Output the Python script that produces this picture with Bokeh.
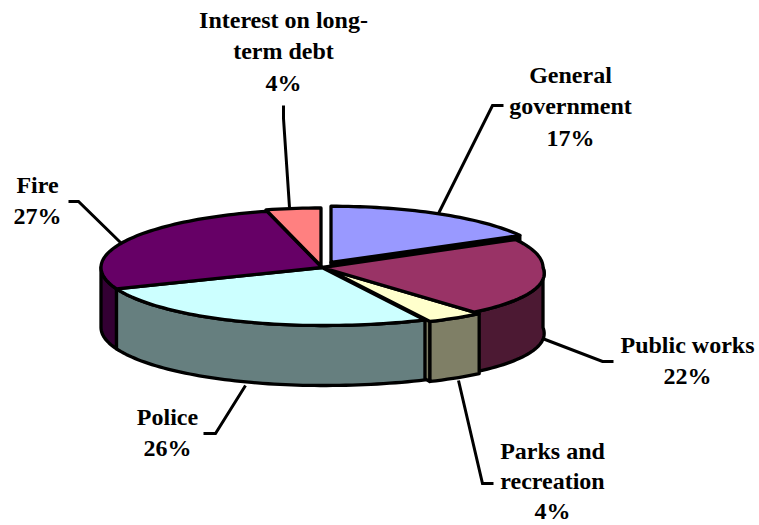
import math

from bokeh.core.properties import value
from bokeh.embed import file_html
from bokeh.models import Range1d
from bokeh.plotting import figure
from bokeh.resources import INLINE

# Expenditure shares, clockwise from twelve o'clock
categories = ["General government", "Public works", "Parks and recreation",
              "Police", "Fire", "Interest on long-term debt"]
shares = [17, 22, 4, 26, 27, 4]
top_colors = ["#9999FF", "#993366", "#FFFFCC", "#CCFFFF", "#660066", "#FF8080"]

# Wrapped category names for the labels
label_lines = [["General", "government"], ["Public works"], ["Parks and", "recreation"],
               ["Police"], ["Fire"], ["Interest on long-", "term debt"]]

# Label anchors: centre x, first line position, line spacing
label_anchor = [(570, 74, 31.5), (687, 344, 31.5), (552, 450, 30),
                (167, 416, 31.5), (37, 184, 31.5), (283, 19, 31.5)]
# Leader polylines from pie edge to label
leader_x = [[438, 492, 503], [542, 602, 613], [458, 482, 493],
            [245, 215, 203], [120, 78, 68], [289, 283, 283]]
leader_y = [[213, 105, 105], [338, 361, 361], [380, 483, 483],
            [385, 433, 433], [242, 201, 201], [207, 118, 105]]

# Pie projection
CX, CY, RX, RY, DEPTH = 321.5, 267, 221, 58, 60
BULGE = 11.5          # perspective stretch of the front-right quadrant
EDGE = 3.3
# Per-slice displacement of the apex and scale of the two radii
offsets = [(9, -5, 0.975, 0.97), (0, 0, 1, 1), (5, 1.5, 1, 1),
           (0, 0, 1, 1), (0, 0, 1, 1), (-1, -1.5, 1, 1)]

p = figure(width=759, height=525, x_range=Range1d(0, 759), y_range=Range1d(525, 0),
           output_backend="svg", toolbar_location=None, min_border=0,
           outline_line_color=None, background_fill_color="white",
           border_fill_color="white")
p.axis.visible = False
p.grid.visible = False


def rim(theta_deg, slice_index):
    dx, dy, sx, sy = offsets[slice_index]
    t = math.radians(theta_deg)
    s, c = math.sin(t), math.cos(t)
    x = CX + dx + RX * sx * s + BULGE * 2 * max(0, s) * max(0, -c)
    y = CY + dy - RY * sy * c
    return x, y


def arc(a, b, i):
    n = max(3, int(abs(b - a) / 1.5))
    return [rim(a + (b - a) * k / n, i) for k in range(n + 1)]


def darker(color):
    r, g, b = (int(color[j:j + 2], 16) // 2 for j in (1, 3, 5))
    return f"#{r:02X}{g:02X}{b:02X}"


def poly(points, fill):
    p.patch([q[0] for q in points], [q[1] for q in points], fill_color=fill,
            line_color="black", line_width=EDGE, line_join="round")


# Cumulative angles of each slice
spans = []
running = 0
total = sum(shares)
for share in shares:
    spans.append((running * 360 / total, (running + share) * 360 / total))
    running += share


def apex(i):
    return CX + offsets[i][0], CY + offsets[i][1]


def top(i):
    a, b = spans[i]
    poly([apex(i)] + arc(a, b, i), top_colors[i])


def wall(i):
    a, b = spans[i]
    a, b = max(a, 90), min(b, 270)
    if b <= a:
        return
    pts = arc(a, b, i)
    poly(pts + [(x, y + DEPTH) for x, y in reversed(pts)], darker(top_colors[i]))


# Painted back to front
BLUE, WORKS, PARKS, POLICE, FIRE, INTEREST = range(6)

wall(FIRE)
wall(WORKS)

# General government floats above the rim, its cut face appears as a heavy band
tip = rim(spans[BLUE][1], BLUE)
a0 = apex(BLUE)
poly([a0, tip, (tip[0], tip[1] + 8), (a0[0], a0[1] + 8)], "black")
top(BLUE)

# Parks wedge sits slightly out, showing a sliver of its cut face
pk_apex = apex(PARKS)
pk_corner = rim(spans[PARKS][1], PARKS)
poly([pk_apex, pk_corner, (pk_corner[0], pk_corner[1] + DEPTH),
      (pk_apex[0], pk_apex[1] + DEPTH)], darker(top_colors[PARKS]))
wall(PARKS)
top(PARKS)
top(WORKS)

wall(POLICE)
top(POLICE)
top(FIRE)
top(INTEREST)

# Leaders
for xs, ys in zip(leader_x, leader_y):
    p.line(xs, ys, line_color="black", line_width=3, line_join="miter")

# Labels: name lines followed by the percentage
for lines, share, (lx, ly, lh) in zip(label_lines, shares, label_anchor):
    for k, txt in enumerate(lines + [f"{share}%"]):
        p.text([lx], [ly + k * lh], text=[txt], text_align="center",
               text_baseline="alphabetic", text_color="black",
               text_font=value("Liberation Serif"), text_font_size="24px",
               text_font_style="bold")

open("out.html", "w").write(file_html(p, INLINE))
